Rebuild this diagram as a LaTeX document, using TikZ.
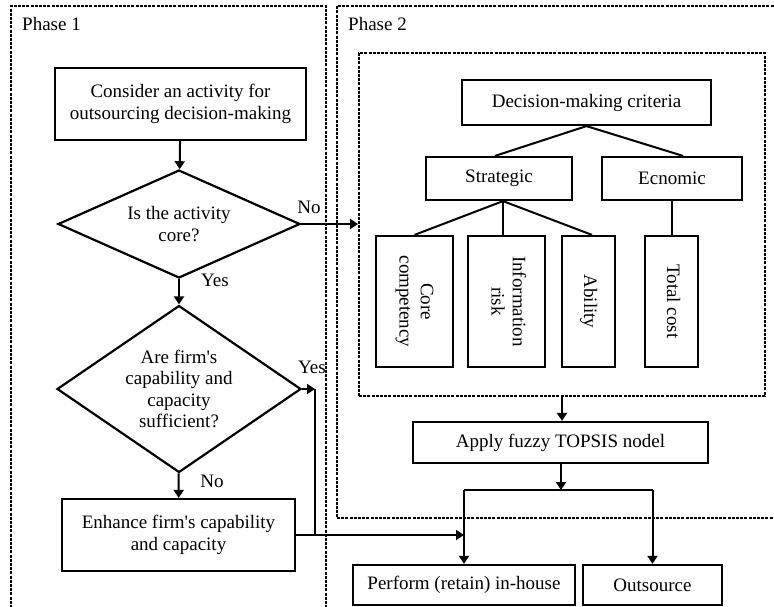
\documentclass[tikz,border=0pt]{standalone}
\usepackage{fontspec}
\setmainfont{Liberation Serif}
\usetikzlibrary{shapes.geometric,arrows.meta}
\newcommand{\vlabel}[1]{\rotatebox{-90}{\begin{tabular}{@{}c@{}}#1\end{tabular}}}
\newcommand{\apos}{\textquotesingle}

\tikzset{
  box/.style={draw, line width=2.2pt, align=center, inner sep=2pt},
  decision/.style={draw, diamond, line width=2.2pt, align=center, inner sep=0pt},
  phase/.style={draw, line width=2pt, dash pattern=on 3pt off 1.2pt, inner sep=0pt, anchor=north west},
  flow/.style={line width=2pt, -{Triangle[length=8pt,width=10pt]}},
  link/.style={line width=2pt},
}

\begin{document}
\begin{tikzpicture}[x=1pt,y=-1pt,font=\fontsize{19}{21.3}\selectfont]
            \useasboundingbox (0,0) rectangle (774,606);

            % Phases
            \node[phase, minimum width=315, minimum height=640] (p1) at (10,5) {};
            \node[phase, minimum width=460, minimum height=512] (p2) at (336,5) {};
            \node[phase, minimum width=406, minimum height=343] (crit) at (358,52) {};
            \node[anchor=base west, inner sep=0pt] (p1t) at (22,30) {Phase 1};
            \node[anchor=base west, inner sep=0pt] (p2t) at (348,30) {Phase 2};

            % Phase 1
            \node[box, minimum width=251, minimum height=72] (consider) at (180.5,104) {Consider an activity for\\outsourcing decision-making};
            \node[decision, minimum width=242, minimum height=108, aspect=2.2] (d1) at (179,224) {Is the activity\\core?};
            \node[decision, minimum width=244, minimum height=167, aspect=1.46] (d2) at (179,389) {Are firm\apos s\\capability and\\capacity\\sufficient?};
            \node[box, minimum width=233, minimum height=72] (enh) at (178.5,535) {Enhance firm\apos s capability\\and capacity};

            \node (no1) at (309,207) {No};
            \node (yes1) at (215,280) {Yes};
            \node (yes2) at (312,367) {Yes};
            \node (no2) at (212,481) {No};

            % Phase 2
            \node[box, minimum width=249, minimum height=45] (dmc) at (586.5,102.5) {Decision-making criteria};
            \node[box, minimum width=146, minimum height=43] (strat) at (499,178.5) {Strategic};
            \node[box, minimum width=140, minimum height=43] (econ) at (672,178.5) {Ecnomic};
            \node[box, minimum width=77, minimum height=131] (core) at (414.5,301.5) {\vlabel{Core\\competency}};
            \node[box, minimum width=77, minimum height=131] (info) at (506.5,301.5) {\vlabel{Information\\risk}};
            \node[box, minimum width=53, minimum height=131] (abil) at (588.5,301.5) {\vlabel{Ability}};
            \node[box, minimum width=53, minimum height=131] (total) at (671.5,301.5) {\vlabel{Total cost}};

            \node[box, minimum width=295, minimum height=41] (topsis) at (560.5,442.5) {Apply fuzzy TOPSIS nodel};
            \node[box, minimum width=222, minimum height=40] (perform) at (464,585) {Perform (retain) in-house};
            \node[box, minimum width=139, minimum height=40] (outsrc) at (652.5,585) {Outsource};

            \coordinate (sb) at ([xshift=4pt]strat.south);
            \coordinate (yj) at (315,389);
            \coordinate (split) at (561,490);

            % Tree
            \draw[link] (dmc.south) -- ([xshift=-4pt]strat.north);
            \draw[link] (dmc.south) -- ([xshift=11pt]econ.north);
            \draw[link] (sb) -- (core.north);
            \draw[link] (sb) -- (sb |- info.north);
            \draw[link] (sb) -- ([xshift=3.5pt]abil.north);
            \draw[link] (econ.south) -- (econ.south |- total.north);

            % Flow
            \draw[flow] (consider) -- (d1);
            \draw[flow] (d1.east) -- (d1.east -| crit.west);
            \draw[flow] (d1) -- (d2);
            \draw[flow] (d2.east) -- (yj);
            \draw[link] (yj) -- (yj |- enh.east);
            \draw[flow] (d2) -- (enh);
            \draw[flow] (enh.east) -- (enh.east -| perform.north);
            \draw[flow] (crit.south) -- (crit.south |- topsis.north);
            \draw[flow] (split |- topsis.south) -- (split);
            \draw[link] (split -| perform.north) -- (split -| outsrc.north);
            \draw[flow] (split -| perform.north) -- (perform);
            \draw[flow] (split -| outsrc.north) -- (outsrc);
\end{tikzpicture}
\end{document}
